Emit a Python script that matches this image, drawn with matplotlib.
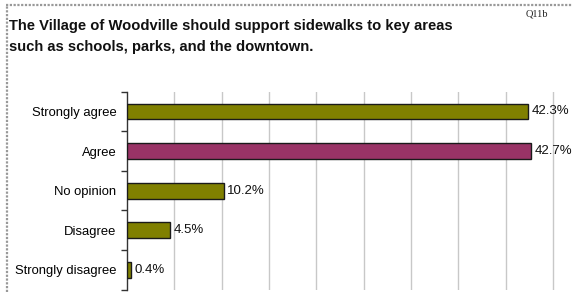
import matplotlib
matplotlib.use("Agg")
import matplotlib.pyplot as plt
from matplotlib.lines import Line2D

categories = ["Strongly agree", "Agree", "No opinion", "Disagree", "Strongly disagree"]
values = [42.3, 42.7, 10.2, 4.5, 0.4]
labels = ["42.3%", "42.7%", "10.2%", "4.5%", "0.4%"]
colors = ["#808000", "#993366", "#808000", "#808000", "#808000"]
grid_ticks = [5, 10, 15, 20, 25, 30, 35, 40, 45]

plt.rcParams['font.family'] = ['Liberation Sans', 'DejaVu Sans']

W, H = 572, 292
fig = plt.figure(figsize=(W / 100, H / 100), dpi=100)
fig.patch.set_facecolor("white")

left = 127 / W
top = (H - 91.7) / H
bottom = (H - 289.5) / H
xmax = 47.0
ax = fig.add_axes([left, bottom, 1.0 - left, top - bottom])

y = list(range(len(categories)))
ax.barh(y, values, height=0.4, color=colors, edgecolor="#1a1a1a", linewidth=1.0, zorder=3)
for yi, v, lab in zip(y, values, labels):
    ax.text(v + 0.4, yi, lab, va="center", ha="left", fontsize=9.5, color="#111111")

ax.set_xlim(0, xmax)
ax.set_ylim(len(categories) - 0.5, -0.5)
ax.set_xticks(grid_ticks)
ax.xaxis.grid(True, color="#c8c8c8", linewidth=1.0, zorder=0)
ax.tick_params(axis="x", length=0, labelbottom=False)

ax.set_yticks(y)
ax.set_yticklabels(categories, fontsize=9.4)
ax.tick_params(axis="y", which="major", length=0, pad=7.5)
ax.set_yticks([i - 0.5 for i in range(len(categories) + 1)], minor=True)
ax.tick_params(axis="y", which="minor", length=4, width=1, color="#333333", direction="out")

for s in ["top", "right", "bottom"]:
    ax.spines[s].set_visible(False)
ax.spines["left"].set_color("#333333")
ax.spines["left"].set_linewidth(1.0)

fig.text(9 / W, 1 - 26 / H, "The Village of Woodville should support sidewalks to key areas",
         fontsize=10.6, fontweight="bold", ha="left", va="center", color="#111111")
fig.text(9 / W, 1 - 47 / H, "such as schools, parks, and the downtown.",
         fontsize=10.6, fontweight="bold", ha="left", va="center", color="#111111")
fig.text(537 / W, 1 - 14 / H, "Q11b", fontsize=7.5, ha="center", va="center",
         family=["Liberation Serif", "DejaVu Serif"], color="#222222")

# dotted frame lines at top and left
fig.add_artist(Line2D([6 / W, 1.0], [1 - 5 / H, 1 - 5 / H], transform=fig.transFigure,
                      color="#999999", linewidth=1.6, linestyle=(0, (1, 0.7))))
fig.add_artist(Line2D([7 / W, 7 / W], [0, 1 - 5 / H], transform=fig.transFigure,
                      color="#999999", linewidth=1.6, linestyle=(0, (1, 0.7))))

fig.savefig("out.png", dpi=100)
